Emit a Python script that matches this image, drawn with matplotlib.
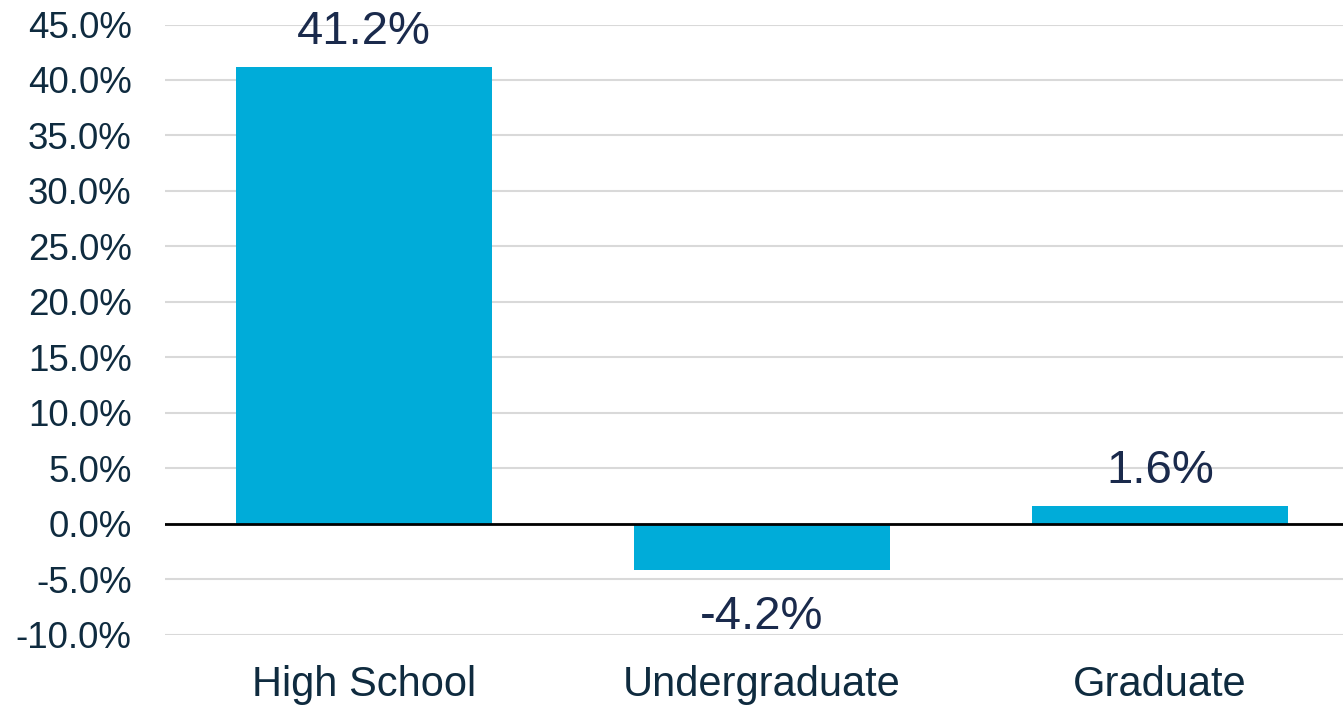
import matplotlib.pyplot as plt
from matplotlib.ticker import FuncFormatter, MultipleLocator

# data
categories = ["High School", "Undergraduate", "Graduate"]
values = [41.2, -4.2, 1.6]
labels = ["41.2%", "-4.2%", "1.6%"]

bar_color = "#00ACD9"
text_color = "#0F2B3F"
label_color = "#1A2A4C"

plt.rcParams['font.family'] = ['Liberation Sans', 'DejaVu Sans']

fig = plt.figure(figsize=(13.43, 7.07), dpi=100)
# right edge of the plot area runs past the picture, like the reference
ax = fig.add_axes([165 / 1343, (707 - 634.5) / 707, 1194 / 1343, 610 / 707])

x = list(range(len(categories)))
ax.bar(x, values, width=0.643, color=bar_color, zorder=2)

ax.set_xlim(-0.5, 2.5)
ax.set_ylim(-10, 45)
ax.yaxis.set_major_locator(MultipleLocator(5))
ax.yaxis.set_major_formatter(FuncFormatter(lambda v, p: f"{v:.1f}%"))
ax.grid(axis='y', color='#D9D9D9', linewidth=1.5, zorder=0)
ax.axhline(0, color='black', linewidth=2, zorder=3)

ax.set_xticks(x)
ax.set_xticklabels(categories)
ax.tick_params(axis='x', length=0, pad=22, labelsize=30, labelcolor=text_color)
ax.tick_params(axis='y', length=0, pad=24, labelsize=26.5, labelcolor=text_color)

for s in ax.spines.values():
    s.set_visible(False)

# value labels
for xi, v, lab in zip(x, values, labels):
    if v >= 0:
        ax.annotate(lab, (xi, v), xytext=(0, 9), textcoords='offset points',
                    ha='center', va='bottom', fontsize=34, color=label_color)
    else:
        ax.annotate(lab, (xi, v), xytext=(0, -18), textcoords='offset points',
                    ha='center', va='top', fontsize=34, color=label_color)

fig.savefig("out.png", dpi=100)
